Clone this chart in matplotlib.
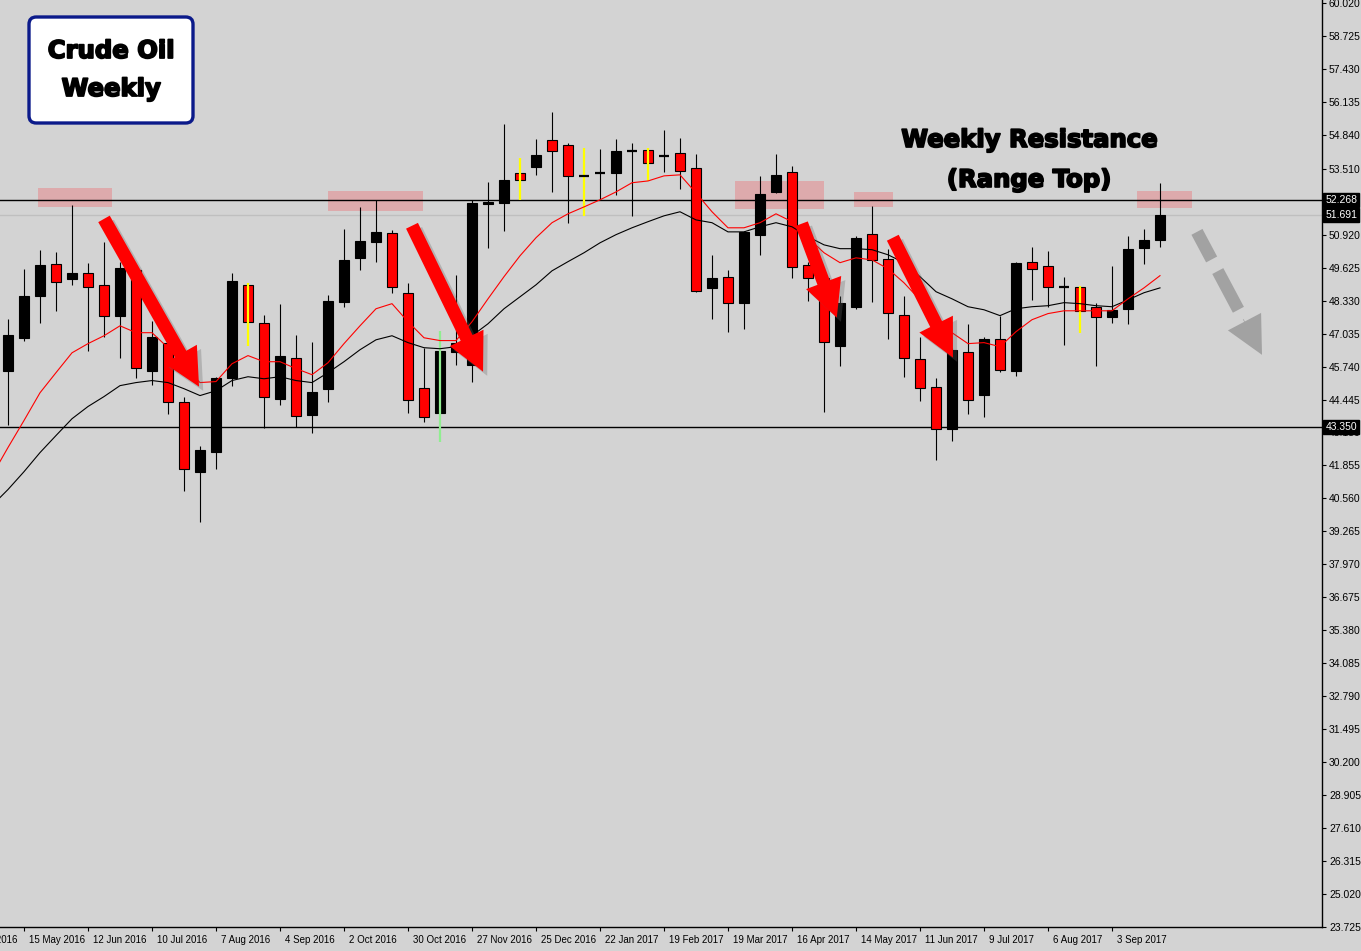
import matplotlib
matplotlib.use("Agg")
import matplotlib.pyplot as plt
import matplotlib.patheffects as pe
from matplotlib.patches import FancyBboxPatch, Rectangle
from matplotlib.transforms import ScaledTranslation, blended_transform_factory

W, H = 1361, 951
BG = "#d3d3d3"

# weekly crude oil candles, first candle = week of 8 May 2016
opens = [45.58, 46.87, 48.52, 49.78, 49.19, 49.42, 48.95, 47.74, 49.54, 45.58,
         46.68, 44.36, 41.61, 42.40, 45.30, 48.95, 47.46, 44.48, 46.09, 43.85,
         44.87, 48.29, 50.01, 50.64, 50.99, 48.64, 44.91, 43.93, 46.32, 45.81,
         52.13, 52.17, 53.35, 53.58, 54.64, 54.45, 53.22, 53.35, 53.35, 54.21,
         54.25, 54.02, 54.13, 53.54, 48.83, 49.27, 48.25, 50.92, 52.60, 53.39,
         49.74, 49.23, 46.56, 48.09, 50.95, 49.97, 47.78, 46.05, 44.95, 43.30,
         46.32, 44.64, 46.83, 45.58, 49.86, 49.70, 48.87, 48.87, 48.09, 47.70,
         48.01, 50.40, 50.72]
highs = [47.62, 49.58, 50.33, 50.25, 52.09, 49.82, 50.64, 49.86, 49.74, 47.54,
         46.79, 44.56, 42.60, 45.34, 49.42, 49.03, 47.78, 48.21, 46.99, 46.72,
         48.56, 51.15, 52.01, 52.29, 51.11, 49.03, 46.48, 47.15, 49.35, 52.29,
         53.00, 55.27, 53.94, 54.68, 55.74, 54.53, 54.33, 54.29, 54.68, 54.53,
         54.33, 55.04, 54.72, 54.09, 50.13, 49.54, 51.07, 53.23, 54.09, 53.62,
         49.86, 49.35, 48.52, 50.88, 52.05, 50.36, 48.52, 46.91, 45.30, 46.48,
         47.42, 46.91, 47.74, 49.86, 50.44, 50.29, 49.27, 48.89, 48.25, 49.70,
         50.88, 51.15, 52.96]
lows = [43.46, 46.75, 47.46, 47.93, 48.95, 46.36, 46.91, 46.09, 45.30, 45.03,
        43.89, 40.87, 39.65, 41.73, 44.99, 46.56, 43.34, 44.24, 43.38, 43.14,
        44.36, 48.09, 49.54, 49.86, 48.64, 43.93, 43.58, 42.79, 45.81, 45.15,
        50.40, 51.07, 52.29, 53.27, 52.60, 51.39, 51.66, 52.29, 52.48, 51.66,
        53.03, 53.39, 52.72, 48.68, 47.62, 47.11, 47.23, 50.13, 52.56, 49.23,
        48.33, 43.97, 45.77, 48.01, 48.29, 46.83, 45.34, 44.40, 42.05, 42.83,
        43.89, 43.77, 45.54, 45.38, 48.36, 48.09, 46.60, 47.07, 45.77, 47.46,
        47.42, 49.78, 50.44]
closes = [46.99, 48.52, 49.74, 49.07, 49.42, 48.87, 47.74, 49.62, 45.70, 46.91,
          44.36, 41.73, 42.48, 45.30, 49.11, 47.50, 44.56, 46.17, 43.81, 44.75,
          48.33, 49.93, 50.68, 51.03, 48.87, 44.44, 43.77, 46.36, 46.68, 52.17,
          52.21, 53.07, 53.07, 54.06, 54.21, 53.23, 53.22, 53.35, 54.21, 54.21,
          53.74, 54.02, 53.43, 48.72, 49.23, 48.25, 51.03, 52.52, 53.27, 49.66,
          49.23, 46.72, 48.25, 50.80, 49.93, 47.85, 46.09, 44.91, 43.30, 46.40,
          44.44, 46.83, 45.62, 49.82, 49.58, 48.87, 48.87, 47.93, 47.70, 47.97,
          50.36, 50.72, 51.69]

# moving averages: one value before the first candle, then one per candle
ma_fast = [41.46, 42.56, 43.62, 44.71, 45.50, 46.28, 46.64, 46.95, 47.34, 47.07,
           47.07, 46.48, 45.77, 45.11, 45.15, 45.85, 46.17, 45.93, 45.93, 45.66,
           45.42, 45.89, 46.64, 47.34, 48.01, 48.21, 47.50, 46.87, 46.76, 46.76,
           47.50, 48.40, 49.27, 50.09, 50.80, 51.39, 51.74, 52.01, 52.29, 52.60,
           52.96, 53.03, 53.23, 53.27, 52.56, 51.82, 51.19, 51.19, 51.39, 51.74,
           51.43, 50.80, 50.21, 49.82, 50.01, 49.93, 49.58, 49.03, 48.36, 47.66,
           47.07, 46.64, 46.68, 46.52, 47.11, 47.58, 47.82, 47.93, 47.93, 47.93,
           47.93, 48.40, 48.83, 49.31]
ma_slow = [40.28, 40.91, 41.61, 42.36, 43.03, 43.69, 44.17, 44.56, 44.99, 45.11,
           45.19, 45.11, 44.87, 44.60, 44.79, 45.19, 45.34, 45.26, 45.34, 45.19,
           45.11, 45.50, 45.93, 46.40, 46.79, 46.95, 46.68, 46.48, 46.44, 46.52,
           46.95, 47.42, 48.01, 48.48, 48.95, 49.50, 49.86, 50.21, 50.60, 50.92,
           51.19, 51.43, 51.66, 51.82, 51.50, 51.39, 51.03, 51.03, 51.23, 51.39,
           51.23, 50.84, 50.52, 50.37, 50.37, 50.33, 50.13, 49.82, 49.27, 48.68,
           48.40, 48.09, 47.97, 47.74, 48.01, 48.09, 48.13, 48.25, 48.21, 48.13,
           48.09, 48.36, 48.64, 48.83]

# wicks recoloured by the pin bar indicator
wick_colors = {15: "#ffff00", 27: "#90ee90", 32: "#ffff00", 36: "#ffff00",
               40: "#ffff00", 67: "#ffff00"}

date_ticks = [-3, 1, 5, 9, 13, 17, 21, 25, 29, 33, 37, 41, 45, 49, 53, 57, 61, 65, 69]
date_labels = ["17 Apr 2016", "15 May 2016", "12 Jun 2016", "10 Jul 2016", "7 Aug 2016",
               "4 Sep 2016", "2 Oct 2016", "30 Oct 2016", "27 Nov 2016", "25 Dec 2016",
               "22 Jan 2017", "19 Feb 2017", "19 Mar 2017", "16 Apr 2017", "14 May 2017",
               "11 Jun 2017", "9 Jul 2017", "6 Aug 2017", "3 Sep 2017"]

price_labels = ["60.020", "58.725", "57.430", "56.135", "54.840", "53.510", "50.920",
                "49.625", "48.330", "47.035", "45.740", "44.445", "43.150", "41.855",
                "40.560", "39.265", "37.970", "36.675", "35.380", "34.085", "32.790",
                "31.495", "30.200", "28.905", "27.610", "26.315", "25.020", "23.725"]

resistance = 52.268
support = 43.350
last_price = 51.691

# resistance touch zones: (x from, x to, price low, price high)
zones = [(1.875, 6.5, 52.01, 52.76), (20.0, 25.94, 51.86, 52.64),
         (45.44, 51.0, 51.94, 53.03), (52.875, 55.31, 52.01, 52.60),
         (70.56, 74.0, 51.97, 52.64)]

# red arrows: (tail x, tail price, tip x, tip price)
red_arrows = [(6.0, 51.54, 11.94, 44.95), (25.25, 51.27, 29.69, 45.54),
              (49.6, 51.35, 51.8, 47.66), (55.3, 50.80, 59.06, 46.09)]

TITLE_FONT = dict(family="DejaVu Sans", weight="bold",
                  path_effects=[pe.withStroke(linewidth=1.3, foreground="black")])

fig = plt.figure(figsize=(W / 100, H / 100), dpi=100, facecolor=BG)
ax = fig.add_axes([0, 24 / H, 1322 / W, 927 / H], facecolor=BG)

n = len(opens)
idx = list(range(n))

# wicks
normal = [i for i in idx if i not in wick_colors]
ax.vlines(normal, [lows[i] for i in normal], [highs[i] for i in normal],
          color="black", lw=0.8, zorder=3)

# bodies
body_i = [i for i in idx if abs(closes[i] - opens[i]) >= 0.03]
bottoms = [min(opens[i], closes[i]) for i in body_i]
heights = [max(abs(closes[i] - opens[i]), 0.06) for i in body_i]
colors = ["black" if closes[i] > opens[i] else "#ff0000" for i in body_i]
ax.bar(body_i, heights, bottom=bottoms, width=0.65, color=colors,
       edgecolor="black", linewidth=0.8, zorder=4)

# coloured wicks drawn over the body
for i, c in wick_colors.items():
    ax.vlines(i, lows[i], highs[i], color=c, lw=1.6, zorder=5)

# doji
doji = [i for i in idx if abs(closes[i] - opens[i]) < 0.03]
for i in doji:
    ax.hlines(opens[i], i - 0.33, i + 0.33, color="black", lw=1.6, zorder=6)

# moving averages
ma_x = list(range(-1, n))
ax.plot(ma_x, ma_slow, color="black", lw=0.8, zorder=7)
ax.plot(ma_x, ma_fast, color="#ff0000", lw=0.8, zorder=7)

# levels
ax.axhline(resistance, color="black", lw=1.0, zorder=2)
ax.axhline(support, color="black", lw=1.0, zorder=2)
ax.axhline(last_price, color="#bfbfbf", lw=1.0, zorder=2)

for x0, x1, p0, p1 in zones:
    ax.add_patch(Rectangle((x0, p0), x1 - x0, p1 - p0, fc="#ddaaac", ec="none", zorder=1))

# arrows
for x0, y0, x1, y1 in red_arrows:
    a = ax.annotate("", xy=(x1, y1), xytext=(x0, y0),
                    arrowprops=dict(arrowstyle="simple,head_length=27,head_width=27,tail_width=9.5",
                                    mutation_scale=1, fc="#ff0000", ec="none",
                                    shrinkA=0, shrinkB=0), zorder=10)
    a.arrow_patch.set_path_effects([pe.SimplePatchShadow(offset=(3, -3), shadow_rgbFace="#666666", alpha=0.3),
                                    pe.Normal()])

grey = "#a2a2a2"
ax.annotate("", xy=(76.9, 47.97), xytext=(74.31, 51.03),
            arrowprops=dict(arrowstyle="-", lw=9, color=grey, linestyle=(0, (2.5, 1.05, 3.9, 1.0)),
                            capstyle="butt", shrinkA=0, shrinkB=0), zorder=9)
ax.annotate("", xy=(78.375, 46.2), xytext=(77.2, 47.6),
            arrowprops=dict(arrowstyle="simple,head_length=27,head_width=27,tail_width=0.5",
                            mutation_scale=1, fc=grey, ec="none", shrinkA=0, shrinkB=0), zorder=9)

# axes
ax.set_xlim(-0.5, 82.125)
ax.set_ylim(23.725, 60.138)
for s in ["left", "top"]:
    ax.spines[s].set_visible(False)
for s in ["right", "bottom"]:
    ax.spines[s].set_color("black")
    ax.spines[s].set_linewidth(1.0)

ax.yaxis.tick_right()
ax.set_yticks([float(p) for p in price_labels], price_labels)
ax.tick_params(axis="y", direction="out", length=3, width=0.8, pad=2, labelsize=7.5, colors="black")
for lab in ax.get_yticklabels():
    lab.set_family("Liberation Sans")

ax.set_xticks([t for t in date_ticks if t >= 0])
ax.set_xticklabels([])
ax.tick_params(axis="x", direction="out", length=3, width=0.8, colors="black")
tr = blended_transform_factory(ax.transData, ax.transAxes) + ScaledTranslation(0.05, 0, fig.dpi_scale_trans)
for t, lab in zip(date_ticks, date_labels):
    ax.text(t, -0.0135, lab, transform=tr, ha="left", va="center", fontsize=7,
            family="Liberation Sans", clip_on=False)

# price boxes on the scale
ptr = blended_transform_factory(ax.transAxes, ax.transData)
for p in [resistance, last_price, support]:
    ax.text(1.0025, p, "%.3f" % p, transform=ptr, ha="left", va="center", fontsize=7.5,
            family="Liberation Sans", color="white", clip_on=False, zorder=20,
            bbox=dict(boxstyle="square,pad=0.2", fc="black", ec="black"))

# title box
box = FancyBboxPatch((29 / 1322, 1 - 123 / 927), 164 / 1322, 106 / 927,
                     boxstyle="round,pad=0,rounding_size=0.0055", mutation_aspect=1322 / 927,
                     transform=ax.transAxes, fc="white", ec="#0b1a8a", lw=2.4, zorder=15)
ax.add_patch(box)
ax.text(111 / 1322, 1 - 51 / 927, "Crude Oil", transform=ax.transAxes, ha="center", va="center",
        fontsize=17.5, zorder=16, **TITLE_FONT)
ax.text(111 / 1322, 1 - 89 / 927, "Weekly", transform=ax.transAxes, ha="center", va="center",
        fontsize=17.5, zorder=16, **TITLE_FONT)

ax.text(63.8, 54.64, "Weekly Resistance", ha="center", va="center", fontsize=17.5,
        zorder=16, **TITLE_FONT)
ax.text(63.8, 53.07, "(Range Top)", ha="center", va="center", fontsize=17.5,
        zorder=16, **TITLE_FONT)

fig.savefig("out.png", dpi=100, facecolor=BG)
